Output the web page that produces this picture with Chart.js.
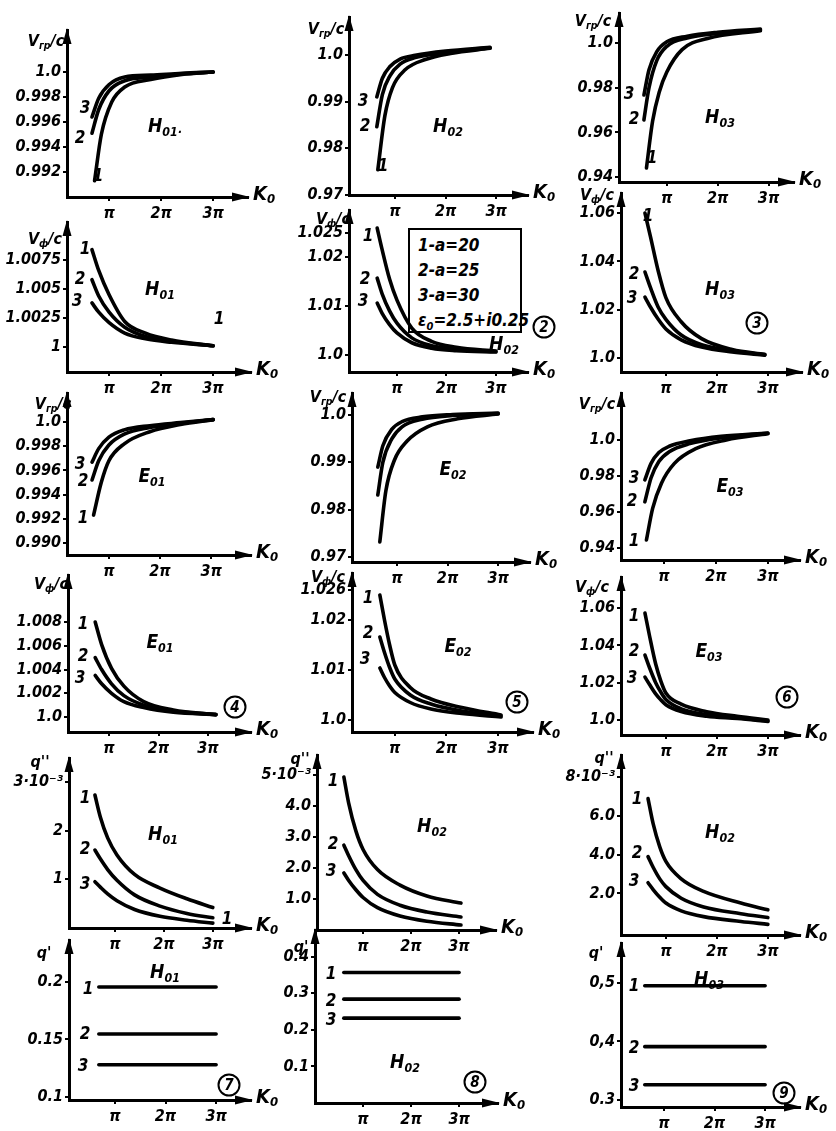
<!DOCTYPE html>
<html>
<head>
<meta charset="utf-8">
<script src="https://cdn.jsdelivr.net/npm/chart.js@4.4.0/dist/chart.umd.min.js"></script>
<style>
body { margin: 0; background: #fff; }
#sheet { position: relative; width: 836px; height: 1131px; overflow: hidden; color: #000;
  font-family: 'DejaVu Sans Condensed', 'Liberation Sans Narrow', 'DejaVu Sans', sans-serif;
  font-style: italic; font-weight: bold; }
canvas { position: absolute; }
.t { position: absolute; transform: translate(-50%, -50%); white-space: nowrap; line-height: 1; }
.t sub { font-size: 0.65em; vertical-align: -0.3em; }
.num { font-size: 17px; }
.mode { font-size: 19px; }
.ax { font-size: 16px; }
.kk { font-size: 20px; }
.circ { position: absolute; width: 19px; height: 19px; border: 2px solid #000; border-radius: 50%;
  transform: translate(-50%, -50%); text-align: center; line-height: 19px; font-size: 15px; }
#legend { position: absolute; left: 408px; top: 228px; width: 114px; height: 105px;
  border: 2.5px solid #000; font-size: 17px; line-height: 25px; padding-left: 8px; box-sizing: border-box; padding-top: 3px; }
</style>
</head>
<body>
<div id="sheet">
  <div id="legend">1-a=20<br>2-a=25<br>3-a=30<br>ε<sub style="font-size:11px">0</sub>=2.5+i0.25</div>
</div>
<script>
// x axis: K0 in units of pi
const xTicks = [1, 2, 3];
const xTickLabels = ['π', '2π', '3π'];

// group velocity Vgr/c, H modes (curves 1, 2, 3 = a 20, 25, 30)
const grH01 = [
  [[0.72, 0.9913], [0.85, 0.9950], [1.05, 0.9976], [1.3, 0.9988], [1.8, 0.9994], [2.4, 0.9998], [3.0, 1.0]],
  [[0.67, 0.9951], [0.8, 0.9970], [1.0, 0.9985], [1.3, 0.9993], [1.8, 0.9996], [2.4, 0.99985], [3.0, 1.0]],
  [[0.67, 0.9964], [0.8, 0.9979], [1.0, 0.9990], [1.3, 0.9996], [1.8, 0.99975], [2.4, 0.9999], [3.0, 1.0]]
];
const grH01Ticks = [0.992, 0.994, 0.996, 0.998, 1.0];
const grH01Labels = ['0.992', '0.994', '0.996', '0.998', '1.0'];

const grH02 = [
  [[0.66, 0.9754], [0.8, 0.9870], [0.95, 0.9930], [1.2, 0.9968], [1.6, 0.9990], [2.1, 1.0003], [2.88, 1.0014]],
  [[0.64, 0.9846], [0.75, 0.9915], [0.9, 0.9955], [1.1, 0.9980], [1.4, 0.9994], [2.0, 1.0005], [2.88, 1.0015]],
  [[0.64, 0.9910], [0.75, 0.9950], [0.9, 0.9975], [1.1, 0.9991], [1.4, 0.9999], [2.0, 1.0008], [2.88, 1.0016]]
];
const grH02Ticks = [0.97, 0.98, 0.99, 1.0];
const grH02Labels = ['0.97', '0.98', '0.99', '1.0'];

const grH03 = [
  [[0.6, 0.9441], [0.72, 0.965], [0.85, 0.978], [1.0, 0.987], [1.3, 0.997], [1.8, 1.002], [2.84, 1.0055]],
  [[0.55, 0.9656], [0.65, 0.9800], [0.8, 0.9920], [1.0, 0.9985], [1.4, 1.0022], [2.0, 1.0042], [2.84, 1.0058]],
  [[0.55, 0.9767], [0.65, 0.9880], [0.8, 0.9960], [1.0, 1.0005], [1.4, 1.0030], [2.0, 1.0048], [2.84, 1.0062]]
];
const grH03Ticks = [0.94, 0.96, 0.98, 1.0];
const grH03Labels = ['0.94', '0.96', '0.98', '1.0'];

// phase velocity Vph/c, H modes
const phH01 = [
  [[0.67, 1.0084], [0.8, 1.0066], [1.0, 1.0045], [1.3, 1.0022], [1.7, 1.0012], [2.2, 1.0006], [3.0, 1.0001]],
  [[0.67, 1.0058], [0.8, 1.0044], [1.0, 1.0030], [1.3, 1.0017], [1.7, 1.0009], [2.2, 1.0005], [3.0, 1.0001]],
  [[0.67, 1.0038], [0.8, 1.0030], [1.0, 1.0021], [1.3, 1.0012], [1.7, 1.0007], [2.2, 1.0004], [3.0, 1.0001]]
];
const phH01Ticks = [1.0, 1.0025, 1.005, 1.0075];
const phH01Labels = ['1', '1.0025', '1.005', '1.0075'];

const phH02 = [
  [[0.6, 1.0259], [0.7, 1.0215], [0.85, 1.0155], [1.0, 1.0112], [1.3, 1.0055], [1.7, 1.0028], [2.2, 1.0016], [3.0, 1.0008]],
  [[0.6, 1.0157], [0.7, 1.0125], [0.85, 1.0090], [1.0, 1.0065], [1.3, 1.0035], [1.7, 1.0019], [2.2, 1.0012], [3.0, 1.0007]],
  [[0.6, 1.0106], [0.7, 1.0085], [0.85, 1.0062], [1.0, 1.0045], [1.3, 1.0025], [1.7, 1.0014], [2.2, 1.0009], [3.0, 1.0006]]
];
const phH02Ticks = [1.0, 1.01, 1.02, 1.025];
const phH02Labels = ['1.0', '1.01', '1.02', '1.025'];

const phH03 = [
  [[0.59, 1.060], [0.7, 1.050], [0.85, 1.036], [1.0, 1.025], [1.3, 1.015], [1.7, 1.008], [2.3, 1.0035], [2.94, 1.0015]],
  [[0.59, 1.0356], [0.7, 1.029], [0.85, 1.021], [1.0, 1.016], [1.3, 1.0095], [1.7, 1.0055], [2.3, 1.003], [2.94, 1.0013]],
  [[0.59, 1.0252], [0.7, 1.021], [0.85, 1.016], [1.0, 1.012], [1.3, 1.0075], [1.7, 1.0045], [2.3, 1.0025], [2.94, 1.0012]]
];
const phH03Ticks = [1.0, 1.02, 1.04, 1.06];
const phH03Labels = ['1.0', '1.02', '1.04', '1.06'];

// group velocity, E modes
const grE01 = [
  [[0.7, 0.99231], [0.85, 0.9950], [1.0, 0.9968], [1.3, 0.9982], [1.8, 0.9992], [2.4, 0.9998], [3.04, 1.0002]],
  [[0.67, 0.99521], [0.8, 0.9968], [1.0, 0.9981], [1.3, 0.9990], [1.8, 0.99955], [2.4, 0.9999], [3.04, 1.0002]],
  [[0.67, 0.99669], [0.8, 0.9978], [1.0, 0.99875], [1.3, 0.99935], [1.8, 0.9997], [2.4, 0.99995], [3.04, 1.0002]]
];
const grE01Ticks = [0.990, 0.992, 0.994, 0.996, 0.998, 1.0];
const grE01Labels = ['0.990', '0.992', '0.994', '0.996', '0.998', '1.0'];

const grE02 = [
  [[0.66, 0.9732], [0.78, 0.9840], [0.95, 0.9905], [1.2, 0.9945], [1.6, 0.9975], [2.2, 0.9992], [3.0, 1.0002]],
  [[0.62, 0.9831], [0.72, 0.9900], [0.9, 0.9950], [1.1, 0.9975], [1.5, 0.9991], [2.1, 0.9999], [3.0, 1.0003]],
  [[0.62, 0.9890], [0.72, 0.9935], [0.9, 0.9970], [1.1, 0.9986], [1.5, 0.9996], [2.1, 1.0001], [3.0, 1.0004]]
];
const grE02Ticks = [0.97, 0.98, 0.99, 1.0];
const grE02Labels = ['0.97', '0.98', '0.99', '1.0'];

const grE03 = [
  [[0.66, 0.9444], [0.78, 0.9620], [0.95, 0.9760], [1.2, 0.9870], [1.6, 0.9950], [2.2, 1.0000], [3.0, 1.0035]],
  [[0.63, 0.9656], [0.75, 0.9790], [0.9, 0.9880], [1.1, 0.9935], [1.5, 0.9980], [2.1, 1.0012], [3.0, 1.0037]],
  [[0.63, 0.9778], [0.75, 0.9870], [0.9, 0.9930], [1.1, 0.9965], [1.5, 0.9995], [2.1, 1.0020], [3.0, 1.0039]]
];
const grE03Ticks = [0.94, 0.96, 0.98, 1.0];
const grE03Labels = ['0.94', '0.96', '0.98', '1.0'];

// phase velocity, E modes
const phE01 = [
  [[0.72, 1.0080], [0.85, 1.0061], [1.05, 1.0041], [1.3, 1.0026], [1.7, 1.0013], [2.3, 1.0006], [3.16, 1.0002]],
  [[0.72, 1.0050], [0.85, 1.0040], [1.05, 1.0028], [1.3, 1.0018], [1.7, 1.0010], [2.3, 1.0005], [3.16, 1.0002]],
  [[0.72, 1.0035], [0.85, 1.0028], [1.05, 1.0020], [1.3, 1.0013], [1.7, 1.0008], [2.3, 1.0004], [3.16, 1.0002]]
];
const phE01Ticks = [1.0, 1.002, 1.004, 1.006, 1.008];
const phE01Labels = ['1.0', '1.002', '1.004', '1.006', '1.008'];

const phE02 = [
  [[0.71, 1.0250], [0.8, 1.0200], [0.9, 1.0150], [1.0, 1.0110], [1.3, 1.0065], [1.7, 1.0042], [2.3, 1.0025], [3.06, 1.0010]],
  [[0.71, 1.0166], [0.8, 1.0135], [0.9, 1.0105], [1.0, 1.0082], [1.3, 1.0050], [1.7, 1.0032], [2.3, 1.0018], [3.06, 1.0008]],
  [[0.71, 1.0104], [0.8, 1.0085], [0.9, 1.0068], [1.0, 1.0055], [1.3, 1.0035], [1.7, 1.0022], [2.3, 1.0013], [3.06, 1.0006]]
];
const phE02Ticks = [1.0, 1.01, 1.02, 1.026];
const phE02Labels = ['1.0', '1.01', '1.02', '1.026'];

const phE03 = [
  [[0.59, 1.0573], [0.68, 1.045], [0.8, 1.030], [0.9, 1.021], [1.0, 1.0145], [1.3, 1.0085], [1.8, 1.0045], [2.4, 1.002], [3.0, 1.0]],
  [[0.59, 1.0348], [0.68, 1.028], [0.8, 1.020], [0.9, 1.0150], [1.0, 1.0110], [1.3, 1.0060], [1.8, 1.0030], [2.4, 1.0012], [3.0, 0.9995]],
  [[0.59, 1.0230], [0.68, 1.019], [0.8, 1.014], [0.9, 1.0108], [1.0, 1.0082], [1.3, 1.0045], [1.8, 1.0020], [2.4, 1.0008], [3.0, 0.9992]]
];
const phE03Ticks = [1.0, 1.02, 1.04, 1.06];
const phE03Labels = ['1.0', '1.02', '1.04', '1.06'];

// q'' (x 10^-3)
const q2H01 = [
  [[0.59, 2.73], [0.7, 2.28], [0.85, 1.85], [1.04, 1.5], [1.4, 1.1], [1.92, 0.82], [2.47, 0.6], [3.0, 0.42]],
  [[0.59, 1.6], [0.7, 1.42], [0.85, 1.2], [1.04, 0.98], [1.4, 0.68], [1.92, 0.45], [2.47, 0.3], [3.0, 0.21]],
  [[0.59, 0.95], [0.7, 0.84], [0.85, 0.7], [1.04, 0.56], [1.4, 0.38], [1.92, 0.24], [2.47, 0.16], [3.0, 0.1]]
];
const q2H01Ticks = [1, 2, 3];
const q2H01Labels = ['1', '2', '3·10⁻³'];

const q2H02 = [
  [[0.6, 4.94], [0.7, 4.1], [0.85, 3.2], [1.0, 2.6], [1.3, 1.95], [1.77, 1.45], [2.33, 1.1], [3.04, 0.87]],
  [[0.6, 2.74], [0.7, 2.4], [0.85, 1.95], [1.0, 1.6], [1.3, 1.15], [1.77, 0.8], [2.33, 0.58], [3.04, 0.42]],
  [[0.6, 1.84], [0.7, 1.6], [0.85, 1.3], [1.0, 1.05], [1.3, 0.72], [1.77, 0.45], [2.33, 0.28], [3.04, 0.16]]
];
const q2H02Ticks = [1, 2, 3, 4, 5];
const q2H02Labels = ['1.0', '2.0', '3.0', '4.0', '5·10⁻³'];

const q2H02b = [
  [[0.65, 6.9], [0.75, 5.6], [0.88, 4.4], [1.0, 3.65], [1.3, 2.75], [1.74, 2.1], [2.47, 1.5], [3.0, 1.15]],
  [[0.65, 3.9], [0.75, 3.35], [0.88, 2.75], [1.0, 2.35], [1.3, 1.75], [1.74, 1.3], [2.47, 0.95], [3.0, 0.75]],
  [[0.65, 2.55], [0.75, 2.2], [0.88, 1.8], [1.0, 1.5], [1.3, 1.1], [1.74, 0.8], [2.47, 0.55], [3.0, 0.4]]
];
const q2H02bTicks = [2, 4, 6, 8];
const q2H02bLabels = ['2.0', '4.0', '6.0', '8·10⁻³'];

// q'
const q1H01 = [
  [[0.68, 0.1957], [3.0, 0.1957]],
  [[0.68, 0.1548], [3.0, 0.1548]],
  [[0.68, 0.128], [3.0, 0.128]]
];
const q1H01Ticks = [0.1, 0.15, 0.2];
const q1H01Labels = ['0.1', '0.15', '0.2'];

const q1H02 = [
  [[0.6, 0.357], [3.0, 0.357]],
  [[0.6, 0.284], [3.0, 0.284]],
  [[0.6, 0.232], [3.0, 0.232]]
];
const q1H02Ticks = [0.1, 0.2, 0.3, 0.4];
const q1H02Labels = ['0.1', '0.2', '0.3', '0.4'];

const q1H03 = [
  [[0.62, 0.495], [3.0, 0.495]],
  [[0.62, 0.391], [3.0, 0.391]],
  [[0.62, 0.326], [3.0, 0.326]]
];
const q1H03Ticks = [0.3, 0.4, 0.5];
const q1H03Labels = ['0.3', '0,4', '0,5'];

// panel geometry: y-axis x, x-axis y, arrow tips, axis ranges
const GR = 'V<sub>гр</sub>/c', PH = 'V<sub>ф</sub>/c';
const panels = [
  { ax: 67, ay: 197, top: 30, ex: 248, x: [0.19, 3.67], y: [0.990, 1.00336], c: grH01, t: grH01Ticks, l: grH01Labels, yt: GR, yp: [46, 42] },
  { ax: 349, ay: 195, top: 17, ex: 528, x: [0.09, 3.63], y: [0.97, 1.0081], c: grH02, t: grH02Ticks, l: grH02Labels, yt: GR, yp: [326, 30] },
  { ax: 619, ay: 182, top: 13, ex: 794, x: [0.06, 3.5], y: [0.9378, 1.0134], c: grH03, t: grH03Ticks, l: grH03Labels, yt: GR, yp: [593, 22] },
  { ax: 67, ay: 372, top: 222, ex: 251, x: [0.19, 3.73], y: [0.99784, 1.01078], c: phH01, t: phH01Ticks, l: phH01Labels, yt: PH, yp: [45, 240] },
  { ax: 349, ay: 372, top: 210, ex: 528, x: [0.03, 3.65], y: [0.99653, 1.0296], c: phH02, t: phH02Ticks, l: phH02Labels, yt: PH, yp: [333, 220] },
  { ax: 621, ay: 372, top: 193, ex: 802, x: [0.12, 3.67], y: [0.9942, 1.0683], c: phH03, t: phH03Ticks, l: phH03Labels, yt: PH, yp: [597, 196] },
  { ax: 67, ay: 555, top: 393, ex: 251, x: [0.18, 3.78], y: [0.98901, 1.0024], c: grE01, t: grE01Ticks, l: grE01Labels, yt: GR, yp: [53, 405] },
  { ax: 352, ay: 562, top: 393, ex: 530, x: [0.11, 3.63], y: [0.96894, 1.00465], c: grE02, t: grE02Ticks, l: grE02Labels, yt: GR, yp: [328, 398] },
  { ax: 621, ay: 560, top: 393, ex: 800, x: [0.17, 3.62], y: [0.9333, 1.0261], c: grE03, t: grE03Ticks, l: grE03Labels, yt: GR, yp: [597, 405] },
  { ax: 68, ay: 732, top: 575, ex: 251, x: [0.17, 3.87], y: [0.99874, 1.01196], c: phE01, t: phE01Ticks, l: phE01Labels, yt: PH, yp: [51, 585] },
  { ax: 352, ay: 732, top: 573, ex: 533, x: [0.17, 3.68], y: [0.9976, 1.0294], c: phE02, t: phE02Ticks, l: phE02Labels, yt: PH, yp: [328, 578] },
  { ax: 621, ay: 735, top: 577, ex: 800, x: [0.12, 3.63], y: [0.992, 1.0766], c: phE03, t: phE03Ticks, l: phE03Labels, yt: PH, yp: [592, 588] },
  { ax: 69, ay: 928, top: 758, ex: 251, x: [0.06, 3.78], y: [0, 3.49], c: q2H01, t: q2H01Ticks, l: q2H01Labels, yt: "q''", yp: [40, 762] },
  { ax: 317, ay: 930, top: 755, ex: 496, x: [0.04, 3.77], y: [0, 5.65], c: q2H02, t: q2H02Ticks, l: q2H02Labels, yt: "q''", yp: [300, 759] },
  { ax: 621, ay: 935, top: 755, ex: 800, x: [0.12, 3.63], y: [-0.15, 9.15], c: q2H02b, t: q2H02bTicks, l: q2H02bLabels, yt: "q''", yp: [604, 758] },
  { ax: 69, ay: 1100, top: 940, ex: 251, x: [0.09, 3.69], y: [0.0974, 0.2365], c: q1H01, t: q1H01Ticks, l: q1H01Labels, yt: "q'", yp: [44, 953] },
  { ax: 315, ay: 1103, top: 930, ex: 498, x: [0.0, 3.81], y: [0, 0.473], c: q1H02, t: q1H02Ticks, l: q1H02Labels, yt: "q'", yp: [301, 947] },
  { ax: 621, ay: 1107, top: 943, ex: 800, x: [0.15, 3.69], y: [0.288, 0.568], c: q1H03, t: q1H03Ticks, l: q1H03Labels, yt: "q'", yp: [596, 953] }
];

// mode names, curve numbers, circled figure numbers
const modes = [
  ['H', '01·', 165, 127], ['H', '02', 448, 127], ['H', '03', 720, 118],
  ['H', '01', 160, 290], ['H', '02', 504, 345], ['H', '03', 720, 290],
  ['E', '01', 152, 477], ['E', '02', 453, 470], ['E', '03', 730, 487],
  ['E', '01', 160, 643], ['E', '02', 458, 647], ['E', '03', 709, 652],
  ['H', '01', 163, 835], ['H', '02', 432, 827], ['H', '02', 720, 833],
  ['H', '01', 165, 973], ['H', '02', 405, 1063], ['H', '03', 709, 980]
];
const curveNums = [
  ['1', 98, 175], ['2', 80, 137], ['3', 85, 107],
  ['1', 383, 165], ['2', 365, 125], ['3', 363, 100],
  ['1', 652, 157], ['2', 634, 118], ['3', 629, 93],
  ['1', 85, 248], ['2', 80, 278], ['3', 77, 300], ['1', 219, 318],
  ['1', 368, 235], ['2', 365, 278], ['3', 363, 300],
  ['1', 648, 215], ['2', 634, 273], ['3', 632, 297],
  ['1', 83, 517], ['2', 83, 480], ['3', 80, 463],
  ['1', 634, 540], ['2', 632, 500], ['3', 634, 477],
  ['1', 83, 623], ['2', 83, 655], ['3', 80, 677],
  ['1', 368, 597], ['2', 368, 632], ['3', 365, 658],
  ['1', 634, 615], ['2', 634, 650], ['3', 632, 677],
  ['1', 85, 797], ['2', 85, 848], ['3', 85, 883], ['1', 227, 918],
  ['1', 333, 780], ['2', 333, 843], ['3', 331, 870],
  ['1', 637, 798], ['2', 637, 852], ['3', 634, 880],
  ['1', 88, 988], ['2', 85, 1033], ['3', 83, 1065],
  ['1', 331, 973], ['2', 331, 1000], ['3', 331, 1019],
  ['1', 634, 985], ['2', 634, 1047], ['3', 634, 1085]
];
const circled = [['2', 544, 327], ['3', 757, 323], ['4', 235, 707], ['5', 517, 702],
  ['6', 787, 697], ['7', 229, 1085], ['8', 475, 1082], ['9', 784, 1093]];

const sheet = document.getElementById('sheet');
const FONT = { family: "'DejaVu Sans Condensed', 'Liberation Sans Narrow', 'DejaVu Sans', sans-serif", style: 'italic', weight: 'bold', size: 16 };

const arrows = {
  id: 'arrows',
  afterDraw(chart) {
    const { ctx, chartArea: a } = chart;
    ctx.save();
    ctx.fillStyle = '#000';
    ctx.beginPath();
    ctx.moveTo(a.left, a.top - 2);
    ctx.lineTo(a.left - 4.5, a.top + 14);
    ctx.lineTo(a.left + 4.5, a.top + 14);
    ctx.closePath();
    ctx.fill();
    ctx.beginPath();
    ctx.moveTo(a.right + 2, a.bottom);
    ctx.lineTo(a.right - 16, a.bottom - 4.5);
    ctx.lineTo(a.right - 16, a.bottom + 4.5);
    ctx.closePath();
    ctx.fill();
    ctx.restore();
  }
};

function put(html, x, y, cls) {
  const d = document.createElement('div');
  d.className = 't ' + cls;
  d.innerHTML = html;
  d.style.left = x + 'px';
  d.style.top = y + 'px';
  sheet.appendChild(d);
}

function makePanel(p) {
  const L = 64, T = 24, R = 36, B = 30;
  const w = p.ex - p.ax + L + R, h = p.ay - p.top + T + B;
  const cv = document.createElement('canvas');
  cv.width = w; cv.height = h;
  cv.style.left = (p.ax - L) + 'px';
  cv.style.top = (p.top - T) + 'px';
  cv.style.width = w + 'px';
  cv.style.height = h + 'px';
  sheet.appendChild(cv);

  new Chart(cv, {
    type: 'line',
    data: {
      datasets: p.c.map(c => ({
        data: c, borderColor: '#000', borderWidth: 3.6, pointRadius: 0,
        cubicInterpolationMode: 'monotone', borderCapStyle: 'round', fill: false
      }))
    },
    options: {
      responsive: false, animation: false, devicePixelRatio: 1,
      layout: { padding: { left: 0, top: T, right: R, bottom: 0 } },
      plugins: { legend: { display: false }, tooltip: { enabled: false } },
      scales: {
        x: {
          type: 'linear', min: p.x[0], max: p.x[1],
          afterFit: s => { s.height = B; },
          afterBuildTicks: s => { s.ticks = xTicks.map(v => ({ value: v })); },
          ticks: { callback: (v, i) => xTickLabels[i], font: FONT, color: '#000', padding: 3, maxRotation: 0, autoSkip: false },
          grid: { display: true, drawOnChartArea: false, tickLength: 4, color: '#000', lineWidth: 2 },
          border: { color: '#000', width: 3 }
        },
        y: {
          type: 'linear', min: p.y[0], max: p.y[1],
          afterFit: s => { s.width = L; },
          afterBuildTicks: s => { s.ticks = p.t.map(v => ({ value: v })); },
          ticks: { callback: (v, i) => p.l[i], font: FONT, color: '#000', padding: 2, autoSkip: false },
          grid: { display: true, drawOnChartArea: false, tickLength: 4, color: '#000', lineWidth: 2 },
          border: { color: '#000', width: 3 }
        }
      }
    },
    plugins: [arrows]
  });

  put(p.yt, p.yp[0], p.yp[1], 'ax');
  put('K<sub>0</sub>', p.ex + 16, p.ay - 3, 'kk');
}

panels.forEach(makePanel);
modes.forEach(m => put(m[0] + '<sub>' + m[1] + '</sub>', m[2], m[3], 'mode'));
curveNums.forEach(n => put(n[0], n[1], n[2], 'num'));
circled.forEach(c => {
  const d = document.createElement('div');
  d.className = 'circ';
  d.textContent = c[0];
  d.style.left = c[1] + 'px';
  d.style.top = c[2] + 'px';
  sheet.appendChild(d);
});
</script>
</body>
</html>
